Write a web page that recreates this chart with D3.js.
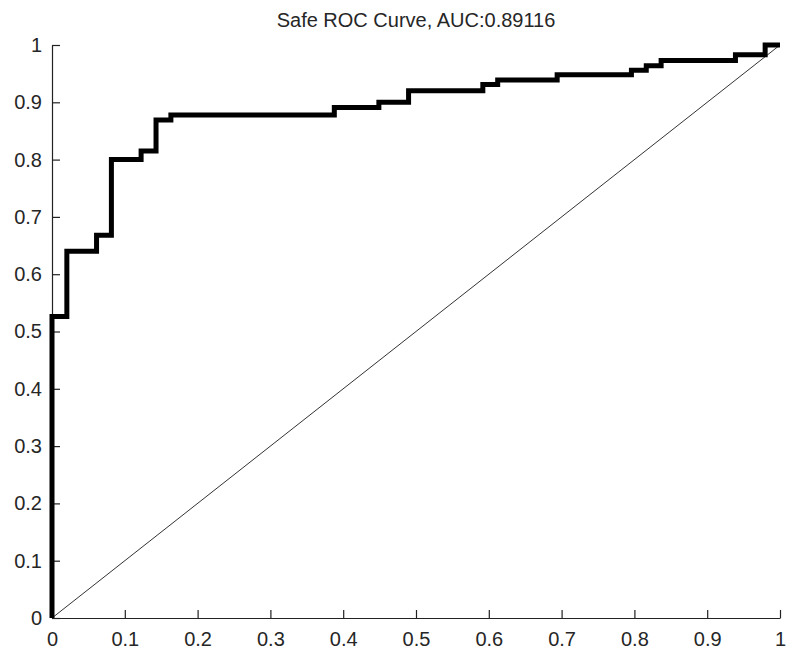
<!DOCTYPE html>
<html>
<head>
<meta charset="utf-8">
<script src="https://cdn.jsdelivr.net/npm/d3@7/dist/d3.min.js"></script>
<style>
  body { margin: 0; background: #fff; }
  #chart { width: 788px; height: 654px; }
  text { font-family: "Liberation Sans", Arial, sans-serif; fill: #262626; }
</style>
</head>
<body>
<div id="chart"></div>
<script>
// ROC step points (false positive rate, true positive rate)
const fpr = [0, 0, 0.0204, 0.0612, 0.0816, 0.1224, 0.1429, 0.1633, 0.3878, 0.449, 0.4898,
  0.5918, 0.6122, 0.6939, 0.7959, 0.8163, 0.8367, 0.9388, 0.9796, 1];
const tpr = [0, 0.526, 0.640, 0.668, 0.800, 0.815, 0.869, 0.878, 0.891, 0.900, 0.920,
  0.931, 0.939, 0.948, 0.956, 0.964, 0.973, 0.983, 1.0, 1.0];
const tickValues = [0, 0.1, 0.2, 0.3, 0.4, 0.5, 0.6, 0.7, 0.8, 0.9, 1];
const tickLabels = ["0", "0.1", "0.2", "0.3", "0.4", "0.5", "0.6", "0.7", "0.8", "0.9", "1"];
const title = "Safe ROC Curve, AUC:0.89116";

const width = 788;
const height = 654;
const margin = { top: 45, left: 52, right: 8, bottom: 36 };

const svg = d3.select("#chart")
    .append("svg")
    .attr("width", width)
    .attr("height", height);

const xScale = d3.scaleLinear()
    .domain([0, 1])
    .range([margin.left, width - margin.right]);

const yScale = d3.scaleLinear()
    .domain([0, 1])
    .range([height - margin.bottom, margin.top]);

const points = fpr.map((d, i) => ({ x: d, y: tpr[i] }));

// chance diagonal
svg.append("line")
    .attr("x1", xScale(0))
    .attr("y1", yScale(0))
    .attr("x2", xScale(1))
    .attr("y2", yScale(1))
    .attr("stroke", "#333")
    .attr("stroke-width", 1);

// axes, ticks point inward like matlab
const xAxis = d3.axisBottom(xScale)
    .tickValues(tickValues)
    .tickFormat((d, i) => tickLabels[i])
    .tickSizeInner(-8)
    .tickSizeOuter(0)
    .tickPadding(14);

const yAxis = d3.axisLeft(yScale)
    .tickValues(tickValues)
    .tickFormat((d, i) => tickLabels[i])
    .tickSizeInner(-8)
    .tickSizeOuter(0)
    .tickPadding(10);

const gx = svg.append("g")
    .attr("transform", `translate(0,${yScale(0)})`)
    .call(xAxis);

const gy = svg.append("g")
    .attr("transform", `translate(${xScale(0)},0)`)
    .call(yAxis);

[gx, gy].forEach(g => {
    g.selectAll("path, line").attr("stroke", "#222").attr("stroke-width", 1.2);
    g.selectAll("text")
        .attr("font-size", 20)
        .attr("font-family", "Liberation Sans, Arial, sans-serif")
        .attr("fill", "#262626");
});

// roc curve
const line = d3.line()
    .x(d => xScale(d.x))
    .y(d => yScale(d.y))
    .curve(d3.curveStepAfter);

svg.append("path")
    .datum(points)
    .attr("d", line)
    .attr("fill", "none")
    .attr("stroke", "#000")
    .attr("stroke-width", 5)
    .attr("stroke-linejoin", "miter");

svg.append("text")
    .attr("x", (xScale(0) + xScale(1)) / 2)
    .attr("y", 27)
    .attr("text-anchor", "middle")
    .attr("font-size", 20)
    .text(title);
</script>
</body>
</html>
